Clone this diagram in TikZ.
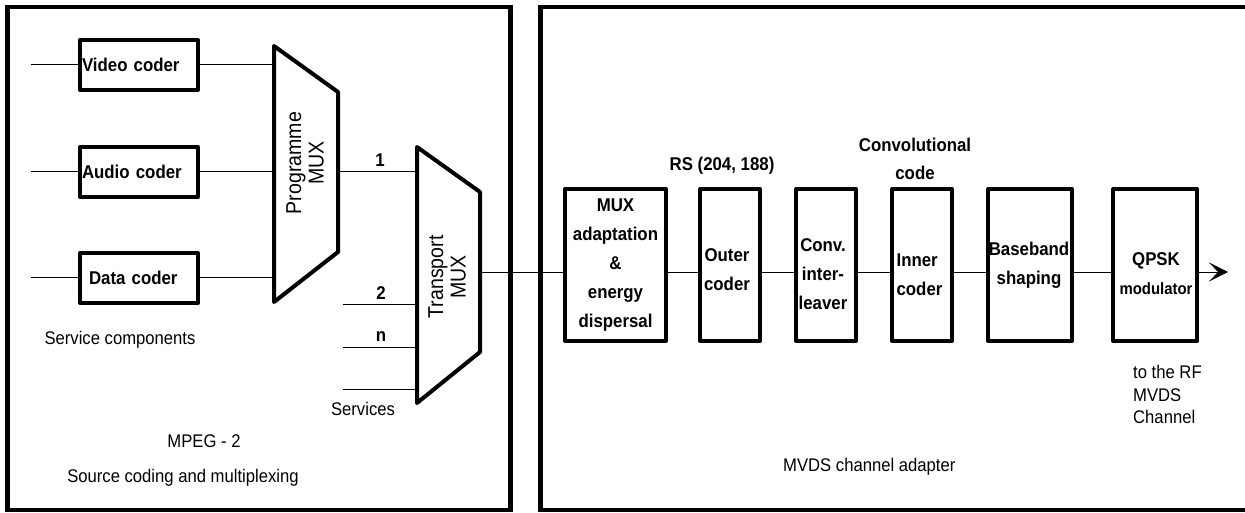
\documentclass[tikz,border=0pt]{standalone}
\usepackage{fontspec}
\setmainfont{Liberation Sans}[FakeStretch=0.91]
\usetikzlibrary{arrows.meta}
\begin{document}
\begin{tikzpicture}[x=1pt,y=-1pt,
  frame/.style={line width=4.5pt},
  blk/.style={draw, line width=4pt, inner sep=0pt, line join=round},
  lbox/.style={blk, minimum width=118pt, minimum height=50pt, text width=114pt, inner xsep=2pt, align=left, font=\bfseries\fontsize{18.5}{22}\selectfont},
  rbox/.style={blk, minimum height=152pt},
  muxshape/.style={line width=4pt, line join=round},
  wire/.style={line width=1pt},
  btxt/.style={font=\bfseries\fontsize{18.5}{29}\selectfont, align=center, inner sep=0pt},
  rtxt/.style={font=\fontsize{18.3}{22.5}\selectfont, inner sep=0pt},
  rot/.style={rotate=90, align=center, inner sep=0pt, font=\fontsize{21.5}{22.5}\selectfont},
]
\useasboundingbox (0,0) rectangle (1245,513);
% frames
\draw[frame] (7.5,7) rectangle (510.5,510);
\draw[frame] (1260,7) -- (540.5,7) -- (540.5,510) -- (1260,510);

% left coders
\node[lbox] (video) at (139,65) {Video coder};
\node[lbox] (audio) at (139,172) {Audio coder};
\node[lbox] (data) at (139,278) {\hspace*{7pt}Data coder};
\coordinate (vin) at (31,65);
\coordinate (ain) at (31,172);
\coordinate (din) at (31,277);
\draw[wire] (vin) -- (video);
\draw[wire] (ain) -- (audio);
\draw[wire] (din) -- (din -| data.west);

% programme MUX
\coordinate (pm1) at (274,46);
\coordinate (pm2) at (338,92);
\coordinate (pm3) at (338,252);
\coordinate (pm4) at (274,302);
\draw[muxshape] (pm1) -- (pm2) -- (pm3) -- (pm4) -- cycle;
\node[rot] (pmlab) at (305,163) {Programme\\MUX};
\draw[wire] (video.east) -- (video.east -| pm1);
\draw[wire] (audio.east) -- (audio.east -| pm1);
\draw[wire] (data.east |- din) -- (din -| pm1);

% transport MUX
\coordinate (tm1) at (417,147);
\coordinate (tm2) at (480,192);
\coordinate (tm3) at (480,352);
\coordinate (tm4) at (417,403);
\draw[muxshape] (tm1) -- (tm2) -- (tm3) -- (tm4) -- cycle;
\node[rot] (tmlab) at (447,277) {Transport\\MUX};
\draw[wire] (audio -| pm2) -- (audio -| tm1);
\node[btxt] (n1) at (380,160) {1};
\coordinate (s2) at (343,304);
\coordinate (sn) at (343,347);
\coordinate (s3) at (343,389);
\draw[wire] (s2) -- (s2 -| tm1);
\draw[wire] (sn) -- (sn -| tm1);
\draw[wire] (s3) -- (s3 -| tm1);
\node[btxt] (n2) at (381,293) {2};
\node[btxt] (nn) at (381,337) {n};

% left texts
\node[rtxt] (svc) at (120,340) {Service components};
\node[rtxt] (services) at (363,409) {Services};
\node[rtxt] (mpeg) at (204,441) {MPEG - 2};
\node[rtxt] (src) at (183,478) {Source coding and multiplexing};

% right boxes
\node[rbox, minimum width=101pt] (madapt) at (615.5,265) {};
\node[rbox, minimum width=60pt] (outer) at (730,265) {};
\node[rbox, minimum width=60pt] (conv) at (826,265) {};
\node[rbox, minimum width=60pt] (inner) at (922,265) {};
\node[rbox, minimum width=84pt] (base) at (1030,265) {};
\node[rbox, minimum width=84pt] (qpsk) at (1155,265) {};

\node[btxt] (madapt-t) at (615.5,265) {MUX\\adaptation\\\&\\energy\\dispersal};
\node[btxt] (outer-t) at (727,270) {Outer\\coder};
\node[btxt] (conv-t) at (823,274) {Conv.\\inter-\\leaver};
\node[btxt, align=left] (inner-t) at (919.5,275) {Inner\\coder};
\node[btxt] (base-t) at (1029,265) {Baseband\\shaping};
\node[btxt] (qpsk-t) at (1156,274) {QPSK\\{\fontsize{16.4}{29}\selectfont modulator}};

% main chain
\coordinate (tout) at (480,272);
\coordinate (chout) at (1228,272);
\draw[wire] (tout) -- (tout -| madapt.west);
\draw[wire] ([yshift=-7pt]madapt.east) -- ([yshift=-7pt]outer.west);
\draw[wire] ([yshift=-7pt]outer.east) -- ([yshift=-7pt]conv.west);
\draw[wire] ([yshift=-7pt]conv.east) -- ([yshift=-7pt]inner.west);
\draw[wire] ([yshift=-7pt]inner.east) -- ([yshift=-7pt]base.west);
\draw[wire] ([yshift=-7pt]base.east) -- ([yshift=-7pt]qpsk.west);
\draw[wire, -{Stealth[length=19pt, width=19pt, inset=9pt]}] ([yshift=-7pt]qpsk.east) -- (chout);

% right labels
\node[btxt] (rs) at (722,166) {RS (204, 188)};
\node[btxt, font=\bfseries\fontsize{18.5}{28}\selectfont] (convcode) at (915,159) {Convolutional\\code};
\node[rtxt, anchor=west, align=left] (rf) at (1133,394.5) {to the RF\\MVDS\\Channel};
\node[rtxt, anchor=west] (adapter) at (783,467) {MVDS channel adapter};
\end{tikzpicture}
\end{document}
